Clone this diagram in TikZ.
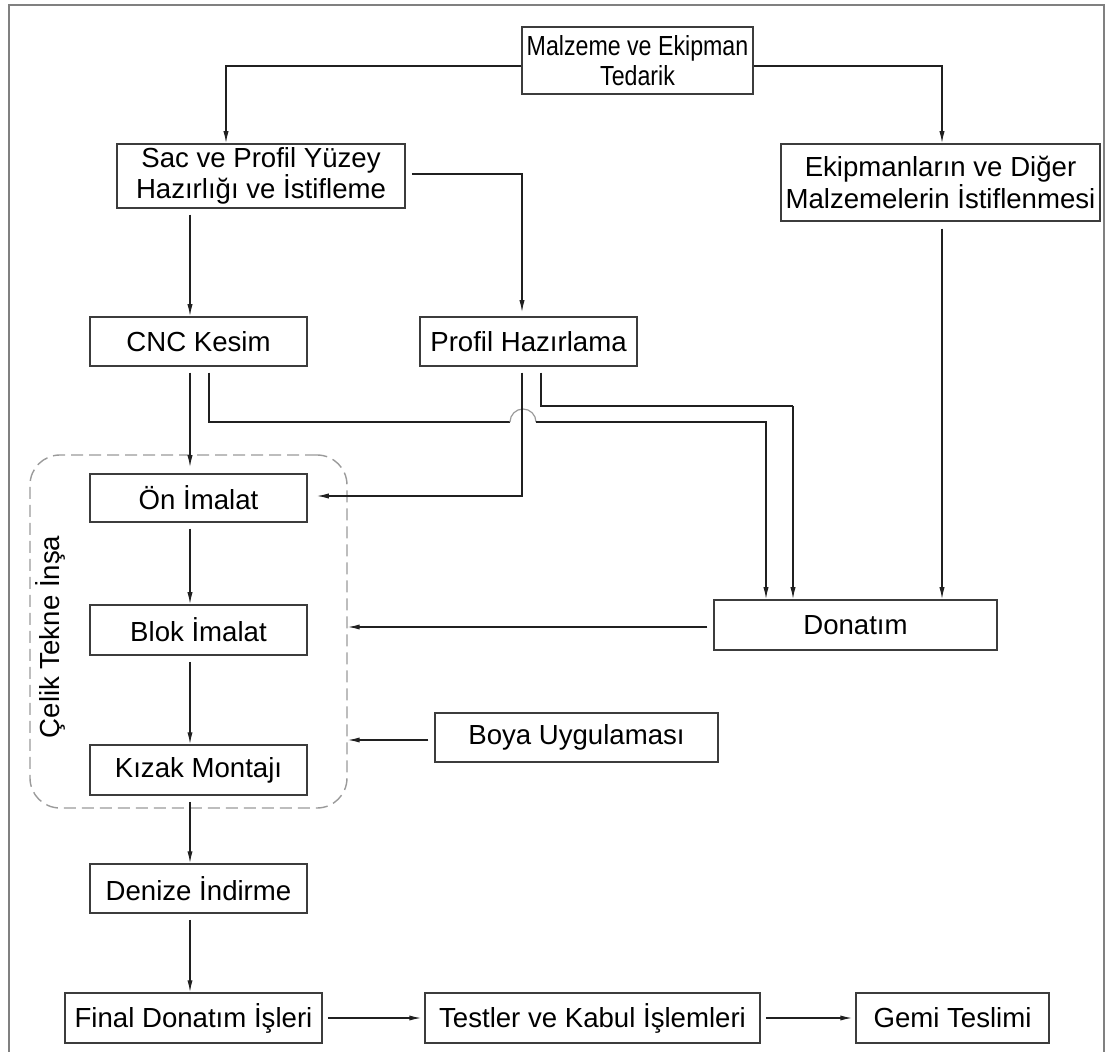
\documentclass[tikz,border=0pt]{standalone}
\usepackage{fontspec}
\setmainfont{Liberation Sans}
\newfontfamily\narrowfont[FakeStretch=0.84]{Liberation Sans}
\usetikzlibrary{arrows.meta}
\definecolor{boxline}{HTML}{3C3C3C}
\definecolor{conn}{HTML}{202020}
\definecolor{frame}{HTML}{808080}
\definecolor{grpline}{HTML}{9A9A9A}
\begin{document}
\begin{tikzpicture}[x=0.5pt,y=-0.5pt,
  box/.style={draw=boxline, line width=0.75pt, inner sep=0pt, align=center,
    font=\fontsize{13.8}{15.8}\selectfont},
  bx/.style 2 args={minimum width=#1*0.5pt, minimum height=#2*0.5pt},
  ln/.style={draw=conn, line width=0.65pt},
  arr/.style={ln, -{Latex[length=6pt,width=2.6pt]}},
  hop/.style={draw=grpline, line width=0.6pt},
  grp/.style={draw=grpline, line width=0.7pt, dash pattern=on 6pt off 3pt,
    rounded corners=15pt, inner sep=0pt},
  lbl/.style={font=\fontsize{13.8}{15.8}\selectfont, inner sep=0pt}]
\useasboundingbox (0,0) rectangle (1107,1052);
% outer frame
\draw[draw=frame, line width=0.8pt] (9,1060) -- (9,5) -- (1104,5) -- (1104,1060);

% nodes
\node[box,bx={231}{67},font=\fontsize{13.8}{15}\narrowfont] (mal) at (637.5,60.5) {Malzeme ve Ekipman\\Tedarik};
\node[box,bx={288}{64}] (sac) at (261,176) {Sac ve Profil Yüzey\\Hazırlığı ve İstifleme};
\node[box,bx={319}{77}] (ekip) at (940.5,182.5) {Ekipmanların ve Diğer\\Malzemelerin İstiflenmesi};
\node[box,bx={217}{49}] (cnc) at (198.5,341.5) {CNC Kesim};
\node[box,bx={217}{49}] (prof) at (528.5,341.5) {Profil Hazırlama};
\node[grp,minimum width=317*0.5pt,minimum height=353*0.5pt] (grp) at (188.5,631.5) {};
\node[box,bx={217}{48}] (on) at (198.5,498) {Ön İmalat};
\node[box,bx={217}{50}] (blok) at (198.5,630) {Blok İmalat};
\node[box,bx={217}{50}] (kizak) at (198.5,770) {Kızak Montajı};
\node[lbl,rotate=90] (celik) at (50,637) {Çelik Tekne İnşa};
\node[box,bx={283}{50}] (don) at (855.5,625) {Donatım};
\node[box,bx={283}{49}] (boya) at (576.5,737.5) {Boya Uygulaması};
\node[box,bx={217}{49}] (den) at (198.5,888.5) {Denize İndirme};
\node[box,bx={257}{50}] (fin) at (193.5,1018) {Final Donatım İşleri};
\node[box,bx={335}{50}] (test) at (592.5,1018) {Testler ve Kabul İşlemleri};
\node[box,bx={193}{50}] (gemi) at (952.5,1018) {Gemi Teslimi};

% helper coordinates
\coordinate (hopL) at (510,422);
\coordinate (hopR) at (536,422);
\coordinate (pdturn) at (793,406);

% connectors
\draw[arr] (mal.west |- 0,66) -| (sac.north -| 226,0);
\draw[arr] (mal.east |- 0,66) -| (ekip.north -| 942,0);
\draw[arr, shorten >=2pt] ([xshift=3pt]sac.east |- 0,174) -| (prof.north -| 522,0);
\draw[arr, shorten <=3pt] (sac.south -| 190,0) -- (cnc.north -| 190,0);
\draw[arr, shorten <=3pt, shorten >=3pt] (cnc.south -| 190,0) -- (on.north -| 190,0);
\draw[ln, shorten <=3pt] (cnc.south -| 209,0) |- (hopL);
\draw[hop] (hopL) arc (180:360:13);
\draw[arr] (hopR) -| (don.north -| 766,0);
\draw[arr, shorten <=3pt, shorten >=4.5pt] (prof.south -| 522,0) |- (on.east |- 0,496);
\draw[ln, shorten <=3pt] (prof.south -| 541,0) |- (pdturn);
\draw[arr] (pdturn) -- (don.north -| 793,0);
\draw[arr, shorten <=3.5pt] (ekip.south -| 942,0) -- (don.north -| 942,0);
\draw[arr, shorten <=3pt] (don.west |- 0,627) -- (grp.east |- 0,627);
\draw[arr, shorten <=3pt] (boya.west |- 0,740) -- (grp.east |- 0,740);
\draw[arr, shorten <=3pt] (on.south -| 190,0) -- (blok.north -| 190,0);
\draw[arr, shorten <=3pt] (blok.south -| 190,0) -- (kizak.north -| 190,0);
\draw[arr, shorten <=3pt] (kizak.south -| 190,0) -- (den.north -| 190,0);
\draw[arr, shorten <=3pt] (den.south -| 190,0) -- (fin.north -| 190,0);
\draw[arr, shorten <=2.5pt, shorten >=1.5pt] (fin.east) -- (test.west);
\draw[arr, shorten <=2.5pt, shorten >=1.5pt] (test.east) -- (gemi.west);
\end{tikzpicture}
\end{document}
